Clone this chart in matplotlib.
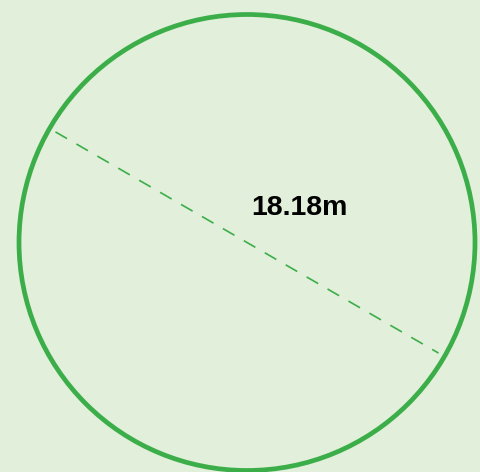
import numpy as np
import matplotlib
matplotlib.use("Agg")
import matplotlib.pyplot as plt
from matplotlib.patches import Circle

# 数据
diameter = 18.18
unit = "m"
line_angle_deg = 150  # 直径虚线方向

BG = "#e2efda"
GREEN = "#3cae49"

radius = diameter / 2
px = 228 / radius  # 每单位像素

fig = plt.figure(figsize=(4.81, 4.72), dpi=100, facecolor=BG)
ax = fig.add_axes([0, 0, 1, 1])
ax.set_facecolor(BG)
ax.set_xlim(-247 / px, (481 - 247) / px)
ax.set_ylim(-(472 - 242.5) / px, 242.5 / px)
ax.axis("off")

# 圆
ax.add_patch(Circle((0, 0), radius, fill=False, edgecolor=GREEN, linewidth=3.4))

# 直径虚线
a = np.deg2rad(line_angle_deg)
r_in = radius * 0.97
ax.plot([r_in * np.cos(a), -r_in * np.cos(a)],
        [r_in * np.sin(a), -r_in * np.sin(a)],
        color=GREEN, linewidth=1.2, linestyle=(0, (8, 6.5)))

# 标签
ax.text(52.5 / px, 34.5 / px, f"{diameter:.2f}{unit}",
        ha="center", va="center", fontsize=20.5, fontweight="bold",
        family="Liberation Sans", color="black")

fig.savefig("out.png", dpi=100, facecolor=BG)
plt.close(fig)
